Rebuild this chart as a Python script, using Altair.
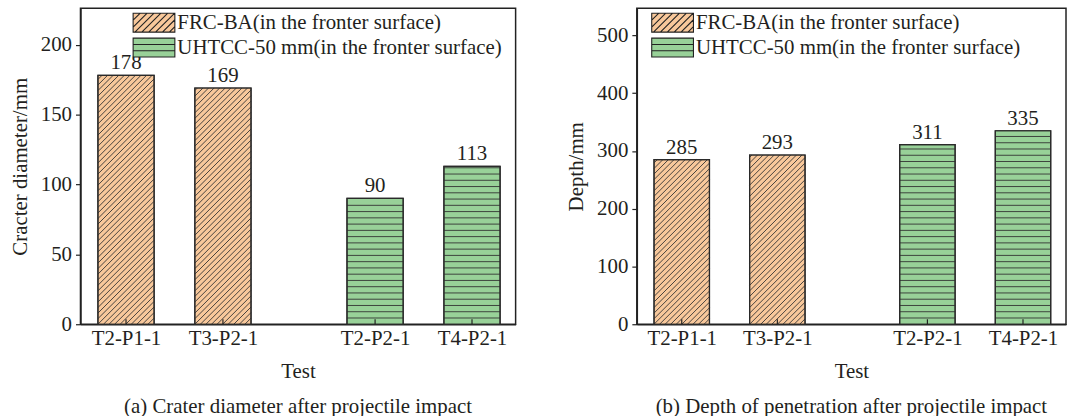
import altair as alt
import pandas as pd

# ---------------- data ----------------
TESTS = ["T2-P1-1", "T3-P2-1", "T2-P2-1", "T4-P2-1"]
SERIES = ["FRC-BA(in the fronter surface)", "UHTCC-50 mm(in the fronter surface)"]
GROUP_OF_TEST = [SERIES[0], SERIES[0], SERIES[1], SERIES[1]]
DIAMETER = [178, 169, 90, 113]
DEPTH = [285, 293, 311, 335]

# ---------------- layout / style ----------------
SLOTS = [1, 2, 3.57, 4.57]          # category positions along x (gap between groups)
XDOM = [0.53, 5.02]
BW = 0.58                           # bar width in slot units
H = 318
W_LEFT, W_RIGHT = 438, 432
FONT = "Liberation Serif"
INK = "#231f20"
ORANGE = "#F8C89B"
GREEN = "#98D198"
HATCH = "#333333"
SP_DIAG = 5.6    # px between diagonal hatch lines (horizontal distance)
SP_HOR = 6.3     # px between horizontal hatch lines

# custom legend swatch paths: unit = sqrt(size)/2 = 10.5 px -> x in [-2,2] (42 px), y in [-0.905,0.905] (19 px)
HX, HY = 2.0, 19 / 21


def diag_path(step=0.66):
    p = f"M{-HX},{-HY:.3f}H{HX}V{HY:.3f}H{-HX}Z"
    c = -HX - HY + step
    while c < HX + HY:
        x0, x1 = max(-HX, c - HY), min(HX, c + HY)
        p += f"M{x0:.3f},{c - x0:.3f}L{x1:.3f},{c - x1:.3f}"
        c += step
    return p


def hor_path():
    return f"M{-HX},{-HY:.3f}H{HX}V{HY:.3f}H{-HX}ZM{-HX},-0.3H{HX}M{-HX},0.3H{HX}"


PATHS = [diag_path(), hor_path()]


def panel(values, ymax, width, ytitle, caption, legend_x):
    df = pd.DataFrame({
        "test": TESTS,
        "g": GROUP_OF_TEST,
        "v": values,
        "slot": SLOTS,
        "pat": [SERIES.index(g) for g in GROUP_OF_TEST],
    })
    sx = width / (XDOM[1] - XDOM[0])
    sy = H / ymax
    wpx = BW * sx

    xscale = alt.Scale(domain=XDOM, nice=False, zero=False)
    yscale = alt.Scale(domain=[0, ymax], nice=False, zero=True)
    label_expr = (
        "[" + ",".join(f"'{t}'" for t in TESTS) + "][indexof(["
        + ",".join(str(s) for s in SLOTS) + "], datum.value)]"
    )
    xaxis = alt.Axis(values=SLOTS, labelExpr=label_expr, ticks=False, grid=False,
                     title="Test", labelPadding=3, titlePadding=13)
    yaxis = alt.Axis(grid=False, tickCount=5, title=ytitle, tickSize=5,
                     labelPadding=4, titlePadding=10)
    leg = alt.Legend(orient="none", legendX=legend_x, legendY=3, title=None,
                     symbolSize=441, symbolStrokeColor="#222", symbolStrokeWidth=1.1,
                     symbolOpacity=1, labelFont=FONT, labelFontSize=21, labelColor=INK,
                     labelOffset=12, rowPadding=0, padding=0, labelLimit=0)
    color = alt.Color("g:N", scale=alt.Scale(domain=SERIES, range=[ORANGE, GREEN]), legend=leg)
    shape = alt.Shape("g:N", scale=alt.Scale(domain=SERIES, range=PATHS), legend=leg)
    stroke = alt.Stroke("g:N", scale=alt.Scale(domain=SERIES, range=["#222222", "#222222"]), legend=leg)

    base = alt.Chart(df).transform_calculate(
        L=f"datum.slot - {BW / 2}", R=f"datum.slot + {BW / 2}"
    )

    bars = base.mark_bar(stroke="#2a2a2a", strokeWidth=1.2).encode(
        x=alt.X("L:Q", scale=xscale, axis=xaxis),
        x2="R:Q",
        y=alt.Y("v:Q", scale=yscale, axis=yaxis),
        y2=alt.datum(0),
        color=color,
    )

    tpx = f"(datum.v * {sy})"
    hatch = base.transform_calculate(
        ks=(f"datum.pat == 0 ? sequence(floor(-{wpx} / {SP_DIAG}) + 1, ceil({tpx} / {SP_DIAG}))"
            f" : sequence(1, ceil({tpx} / {SP_HOR}))")
    ).transform_flatten(["ks"], as_=["k"]).transform_calculate(
        t=f"datum.pat == 0 ? datum.k * {SP_DIAG} : datum.k * {SP_HOR}",
    ).transform_filter(f"datum.pat == 1 ? datum.t < {tpx} - 1 : true").transform_calculate(
        x0=f"datum.pat == 1 ? 0 : (datum.t >= 0 ? 0 : -datum.t)",
        y0=f"datum.pat == 1 ? datum.t : (datum.t >= 0 ? datum.t : 0)",
        x1=f"datum.pat == 1 ? {wpx} : (datum.t + {wpx} <= {tpx} ? {wpx} : {tpx} - datum.t)",
        y1=f"datum.pat == 1 ? datum.t : (datum.t + {wpx} <= {tpx} ? datum.t + {wpx} : {tpx})",
    ).transform_calculate(
        hx=f"datum.L + datum.x0 / {sx}", hx2=f"datum.L + datum.x1 / {sx}",
        hy=f"datum.y0 / {sy}", hy2=f"datum.y1 / {sy}",
    ).mark_rule(color=HATCH, strokeWidth=0.9).encode(
        x=alt.X("hx:Q", scale=xscale, axis=xaxis),
        x2="hx2:Q",
        y=alt.Y("hy:Q", scale=yscale, axis=yaxis),
        y2="hy2:Q",
    )

    outline = base.mark_bar(fillOpacity=0, stroke="#2a2a2a", strokeWidth=1.2).encode(
        x=alt.X("L:Q", scale=xscale, axis=xaxis),
        x2="R:Q",
        y=alt.Y("v:Q", scale=yscale, axis=yaxis),
        y2=alt.datum(0),
    )

    labels = base.mark_text(baseline="alphabetic", dy=-6, font=FONT, fontSize=21, color=INK).encode(
        x=alt.X("slot:Q", scale=xscale, axis=xaxis),
        y=alt.Y("v:Q", scale=yscale, axis=yaxis),
        text="v:Q",
    )

    ticks = base.mark_rule(color="#222", strokeWidth=1.2).encode(
        x=alt.X("slot:Q", scale=xscale, axis=xaxis),
        y=alt.value(H),
        y2=alt.value(H - 5),
    )

    keys = base.mark_point(filled=True, opacity=0).encode(
        x=alt.X("slot:Q", scale=xscale, axis=xaxis),
        y=alt.Y("v:Q", scale=yscale, axis=yaxis),
        color=color,
        shape=shape,
        stroke=stroke,
    )

    return alt.layer(bars, hatch, outline, labels, ticks, keys).properties(
        width=width, height=H,
        title=alt.TitleParams(caption, orient="bottom", anchor="middle", font=FONT,
                              fontSize=21, fontWeight="normal", color=INK, offset=14),
    )


left = panel(DIAMETER, 226, W_LEFT, "Cracter diameter/mm",
             "(a) Crater diameter after projectile impact", 62.5)
right = panel(DEPTH, 547, W_RIGHT, "Depth/mm",
              "(b) Depth of penetration after projectile impact", 24.5)

chart = alt.hconcat(left, right, spacing=48).resolve_scale(
    x="independent", y="independent", color="independent", shape="independent",
    stroke="independent",
).properties(
    padding={"left": 8, "top": 6, "right": 0, "bottom": 0},
    background="white",
).configure_view(
    stroke="#222", strokeWidth=1.5
).configure_axis(
    labelFont=FONT, titleFont=FONT, labelFontSize=21, titleFontSize=21,
    labelColor=INK, titleColor=INK, titleFontWeight="normal",
    domainColor="#222", domainWidth=1.5, tickColor="#222", tickWidth=1.2,
)

chart.save("out.html", embed_options={"renderer": "svg", "actions": False})
